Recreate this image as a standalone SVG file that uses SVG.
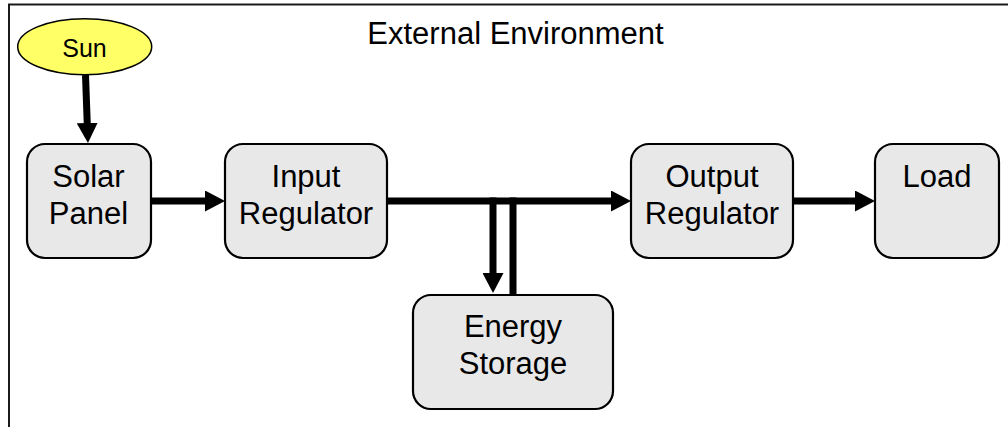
<svg xmlns="http://www.w3.org/2000/svg" width="1008" height="427" viewBox="0 0 1008 427">
  <style>
    .box { fill: #e8e8e8; stroke: #000; stroke-width: 2.2; }
    .lbl { font-family: "Liberation Sans", Arial, sans-serif; font-size: 31px; fill: #000; text-anchor: middle; }
    .wire { stroke: #000; stroke-width: 7; fill: none; }
    .arrow { marker-end: url(#head); }
  </style>
  <defs>
    <marker id="head" markerUnits="userSpaceOnUse" markerWidth="20" markerHeight="21" viewBox="0 0 20 21" refX="2" refY="10.5" orient="auto">
      <path d="M0,0 L20,10.5 L0,21 z" fill="#000"/>
    </marker>
  </defs>
  <rect width="1008" height="427" fill="#fff"/>

  <!-- environment boundary (open to the right and bottom) -->
  <g id="environment">
    <rect x="9" y="4.5" width="1100" height="500" fill="none" stroke="#1a1a1a" stroke-width="2"/>
    <text class="lbl" x="515.5" y="44">External Environment</text>
  </g>

  <!-- connectors -->
  <g id="connectors">
    <line class="wire arrow" x1="85.5" y1="75" x2="87.3" y2="125"/>
    <line class="wire arrow" x1="151" y1="201" x2="207" y2="201"/>
    <line class="wire arrow" x1="388" y1="201" x2="613" y2="201"/>
    <line class="wire arrow" x1="493" y1="197.5" x2="493" y2="275"/>
    <line class="wire" x1="513" y1="296" x2="513" y2="197.5"/>
    <line class="wire arrow" x1="794" y1="201" x2="857" y2="201"/>
  </g>

  <g id="sun">
    <ellipse cx="84.7" cy="46.7" rx="67" ry="28" fill="#ffff66" stroke="#000" stroke-width="1.5"/>
    <text class="lbl" x="84.5" y="57" style="font-size:25px">Sun</text>
  </g>

  <g id="solar-panel">
    <rect class="box" x="27" y="144" width="124" height="114" rx="18"/>
    <text class="lbl" x="88.5" y="187">Solar</text>
    <text class="lbl" x="88.5" y="224">Panel</text>
  </g>

  <g id="input-regulator">
    <rect class="box" x="225" y="144" width="162" height="114" rx="18"/>
    <text class="lbl" x="306" y="187">Input</text>
    <text class="lbl" x="306" y="224">Regulator</text>
  </g>

  <g id="energy-storage">
    <rect class="box" x="413" y="295" width="200" height="114" rx="18"/>
    <text class="lbl" x="513" y="337">Energy</text>
    <text class="lbl" x="513" y="374">Storage</text>
  </g>

  <g id="output-regulator">
    <rect class="box" x="631" y="144" width="162" height="114" rx="18"/>
    <text class="lbl" x="712" y="187">Output</text>
    <text class="lbl" x="712" y="224">Regulator</text>
  </g>

  <g id="load">
    <rect class="box" x="875" y="144" width="124" height="114" rx="18"/>
    <text class="lbl" x="937" y="187">Load</text>
  </g>
</svg>
